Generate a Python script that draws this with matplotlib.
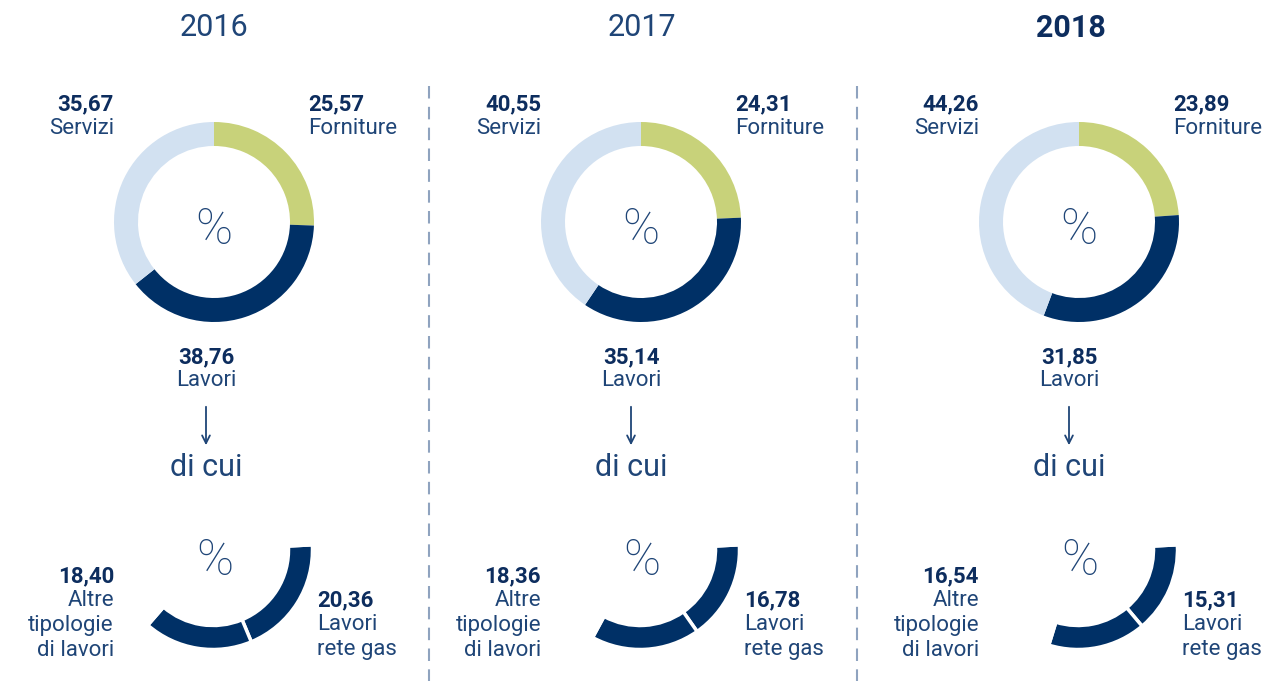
import matplotlib
matplotlib.use("Agg")
import matplotlib.pyplot as plt

# Data (percentages)
years = ["2016", "2017", "2018"]
forniture = [25.57, 24.31, 23.89]
lavori = [38.76, 35.14, 31.85]
servizi = [35.67, 40.55, 44.26]
rete_gas = [20.36, 16.78, 15.31]
altre = [18.40, 18.36, 16.54]

# Style
NAVY = "#003066"
GREEN = "#c8d27a"
LIGHT = "#d2e1f1"
TXT = "#1f4577"
TXT_B = "#0d2d5e"
SEP = "#8fa3bf"

plt.rcParams["font.family"] = ["Roboto", "DejaVu Sans"]

W, H = 1269, 681
fig = plt.figure(figsize=(W / 100, H / 100), dpi=100)
ax = fig.add_axes([0, 0, 1, 1])


def Y(y):
    # pixel row -> data y
    return H - y


def fmt(v):
    return f"{v:.2f}".replace(".", ",")


cxs = [214, 641, 1079]
year_x = [214, 642, 1071]
lav_x = [206, 631, 1069]
R = 100
RING = 24
ARC_SCALE = 0.96   # the breakdown arc is drawn slightly compressed in the original
FS = 16

for i, yr in enumerate(years):
    cx = cxs[i]

    # year title
    ax.text(year_x[i], Y(28), yr, ha="center", va="center", fontsize=22,
            color=TXT_B if i == len(years) - 1 else TXT,
            fontweight="bold" if i == len(years) - 1 else "normal")

    # main donut
    ax.pie([forniture[i], lavori[i], servizi[i]], colors=[GREEN, NAVY, LIGHT],
           startangle=90, counterclock=False, radius=R, center=(cx, Y(222)),
           wedgeprops=dict(width=RING, linewidth=0))
    ax.text(cx, Y(230), "%", ha="center", va="center", fontsize=36,
            color=TXT, fontweight="light")

    # top labels
    ax.text(cx - 100, Y(104), fmt(servizi[i]), ha="right", va="center",
            fontsize=FS, fontweight="bold", color=TXT_B)
    ax.text(cx - 100, Y(128), "Servizi", ha="right", va="center",
            fontsize=FS, color=TXT)
    ax.text(cx + 94, Y(104), fmt(forniture[i]), ha="left", va="center",
            fontsize=FS, fontweight="bold", color=TXT_B)
    ax.text(cx + 94, Y(128), "Forniture", ha="left", va="center",
            fontsize=FS, color=TXT)

    # lavori label, arrow, "di cui"
    lx = lav_x[i]
    ax.text(lx, Y(357), fmt(lavori[i]), ha="center", va="center",
            fontsize=FS, fontweight="bold", color=TXT_B)
    ax.text(lx, Y(381), "Lavori", ha="center", va="center",
            fontsize=FS, color=TXT)
    ax.annotate("", xy=(lx, Y(448)), xytext=(lx, Y(404)),
                arrowprops=dict(arrowstyle="->", color=TXT, lw=1.3,
                                mutation_scale=14))
    ax.text(lx, Y(468), "di cui", ha="center", va="center",
            fontsize=22, color=TXT)

    # breakdown arc of lavori
    hidden = 100 / ARC_SCALE - lavori[i]
    ax.pie([rete_gas[i], altre[i], hidden],
           colors=[NAVY, NAVY, "none"], startangle=3, counterclock=False,
           radius=99.5, center=(cx - 1, Y(550)),
           wedgeprops=dict(width=RING, linewidth=2.5, edgecolor="white"))
    ax.text(cx + 1, Y(561), "%", ha="center", va="center", fontsize=36,
            color=TXT, fontweight="light")

    # bottom labels
    ax.text(cx - 100, Y(576), fmt(altre[i]), ha="right", va="center",
            fontsize=FS, fontweight="bold", color=TXT_B)
    for k, line in enumerate(["Altre", "tipologie", "di lavori"]):
        ax.text(cx - 100, Y(601 + 25 * k), line, ha="right", va="center",
                fontsize=FS, color=TXT)
    ax.text(cx + 103, Y(600), fmt(rete_gas[i]), ha="left", va="center",
            fontsize=FS, fontweight="bold", color=TXT_B)
    for k, line in enumerate(["Lavori", "rete gas"]):
        ax.text(cx + 103, Y(625 + 25 * k), line, ha="left", va="center",
                fontsize=FS, color=TXT)

# dashed separators
for sx in [429, 857]:
    ax.plot([sx, sx], [Y(86), Y(681)], color=SEP, lw=1.5,
            linestyle=(0, (6, 4)))

ax.set_xlim(0, W)
ax.set_ylim(0, H)
ax.set_aspect("equal")
ax.axis("off")

fig.savefig("out.png", dpi=100, facecolor="white")
